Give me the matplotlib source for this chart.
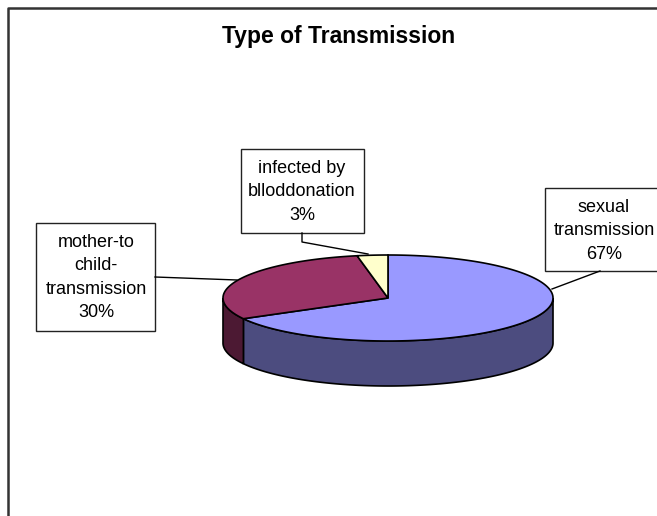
#-----3D style pie chart: Type of Transmission
import numpy as np
import matplotlib
matplotlib.use('Agg')
import matplotlib.pyplot as plt
from matplotlib.patches import Polygon, Rectangle

#-----Data
categories = ['sexual\ntransmission', 'mother-to\nchild-\ntransmission', 'infected by\nblloddonation']
shares = [67, 30, 3]
top_colors = ['#9999FF', '#993366', '#FFFFCC']
side_colors = ['#4C4C7F', '#4C1933', '#80806A']

plt.rcParams['font.family'] = ['Liberation Sans', 'DejaVu Sans']

#-----Figure in pixel coordinates
fig = plt.figure(figsize=(6.57, 5.16), dpi=100)
ax = fig.add_axes([0, 0, 1, 1])
ax.set_xlim(0, 657)
ax.set_ylim(516, 0)
ax.axis('off')

# outer chart border (runs off the right and bottom edge)
ax.plot([8, 8, 700], [600, 8, 8], color='#333333', lw=1.8, solid_capstyle='butt')

# title
ax.text(339, 43, 'Type of Transmission', ha='center', va='baseline',
        fontsize=16.5, fontweight='bold')

#-----Pie geometry
cx, cy, rx, ry, depth = 388, 298, 165, 43, 45

def ell(t):
    return cx + rx * np.cos(t), cy - ry * np.sin(t)

# slice angles: start at 12 o'clock, go clockwise
fracs = np.array(shares) / sum(shares)
bounds = 90 - 360 * np.concatenate([[0], np.cumsum(fracs)])

# side walls (front half only)
for i in range(len(shares)):
    hi, lo = bounds[i], bounds[i + 1]
    t = np.radians(np.linspace(lo, hi, 400))
    front = np.sin(t) <= 0
    if not front.any():
        continue
    # contiguous runs of the front-facing part
    idx = np.where(front)[0]
    runs = np.split(idx, np.where(np.diff(idx) > 1)[0] + 1)
    for r in runs:
        tt = t[r]
        x, y = ell(tt)
        xs = np.concatenate([x, x[::-1]])
        ys = np.concatenate([y, y[::-1] + depth])
        ax.add_patch(Polygon(np.column_stack([xs, ys]), closed=True,
                             facecolor=side_colors[i], edgecolor='black', lw=1.2))

# top faces
for i in range(len(shares)):
    hi, lo = bounds[i], bounds[i + 1]
    t = np.radians(np.linspace(hi, lo, 300))
    x, y = ell(t)
    xs = np.concatenate([[cx], x])
    ys = np.concatenate([[cy], y])
    ax.add_patch(Polygon(np.column_stack([xs, ys]), closed=True,
                         facecolor=top_colors[i], edgecolor='black', lw=1.2))

#-----Data labels with boxes and leader lines
boxes = [(545, 188, 140, 83), (36, 223, 119, 108), (241, 149, 123, 84)]
text_pos = [(604, 212), (96, 247), (302, 173)]
leaders = [[(600, 271), (552, 289)],
           [(155, 277), (237, 280)],
           [(302, 233), (302, 242), (368, 254)]]

for i in range(len(shares)):
    bx, by, bw, bh = boxes[i]
    ax.add_patch(Rectangle((bx, by), bw, bh, facecolor='white',
                           edgecolor='#222222', lw=1.0))
    lines = categories[i].split('\n') + ['%d%%' % shares[i]]
    tx, ty = text_pos[i]
    for k, line in enumerate(lines):
        ax.text(tx, ty + k * 23.3, line, ha='center', va='baseline', fontsize=13)
    lx, ly = zip(*leaders[i])
    ax.plot(lx, ly, color='black', lw=1.0)

fig.savefig('out.png', dpi=100)
